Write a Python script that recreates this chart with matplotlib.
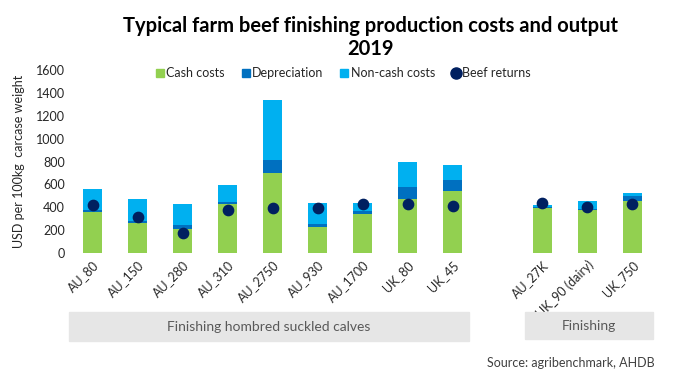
import matplotlib.pyplot as plt
from matplotlib.patches import Rectangle
from matplotlib.lines import Line2D
import numpy as np

plt.rcParams['font.family'] = ['Lato', 'DejaVu Sans']

farms = ["AU_80", "AU_150", "AU_280", "AU_310", "AU_2750", "AU_930", "AU_1700",
         "UK_80", "UK_45", "AU_27K", "UK_90 (dairy)", "UK_750"]
cash = [355, 259, 212, 425, 701, 230, 337, 468, 538, 390, 378, 451]
depreciation = [17, 17, 29, 23, 114, 20, 32, 105, 102, 11, 6, 44]
non_cash = [189, 198, 190, 148, 523, 189, 70, 224, 131, 15, 73, 34]
beef_returns = [419, 314, 172, 372, 390, 390, 428, 428, 410, 436, 401, 428]

# gap between the two groups
x = np.array([0, 1, 2, 3, 4, 5, 6, 7, 8, 10, 11, 12])
cash = np.array(cash)
depreciation = np.array(depreciation)
non_cash = np.array(non_cash)

fig = plt.figure(figsize=(6.83, 3.78), dpi=100)
ax = fig.add_axes([0.1025, 0.3307, 0.8565, 0.484])

w = 0.42
ax.bar(x, cash, w, color='#92d050')
ax.bar(x, depreciation, w, bottom=cash, color='#0070c0')
ax.bar(x, non_cash, w, bottom=cash + depreciation, color='#00b0f0')
ax.scatter(x, beef_returns, s=55, color='#002060', zorder=3)

ax.set_xlim(-0.5, 12.5)
ax.set_ylim(0, 1600)
ax.set_yticks(range(0, 1601, 200))
ax.set_xticks(x)
ax.set_xticklabels(farms, rotation=45, ha='right', rotation_mode='anchor', fontsize=9, color='#262626')
ax.tick_params(axis='y', labelsize=9, labelcolor='#262626', length=0)
ax.tick_params(axis='x', length=0, pad=4)
for s in ax.spines.values():
    s.set_visible(False)
ax.set_ylabel('USD per 100kg  carcase weight', fontsize=9, color='#262626', labelpad=8)

fig.text(0.542, 0.901, 'Typical farm beef finishing production costs and output\n2019',
         ha='center', va='center', fontsize=14.5, fontweight='bold', linespacing=1.15)

handles = [Line2D([], [], ls='', marker='s', ms=6, color='#92d050'),
           Line2D([], [], ls='', marker='s', ms=6, color='#0070c0'),
           Line2D([], [], ls='', marker='s', ms=6, color='#00b0f0'),
           Line2D([], [], ls='', marker='o', ms=8, color='#002060')]
fig.legend(handles, ['Cash costs', 'Depreciation', 'Non-cash costs', 'Beef returns'],
           loc='center', bbox_to_anchor=(0.502, 0.807), ncol=4, frameon=False,
           fontsize=9, handletextpad=0.1, columnspacing=1.3, handlelength=0.8,
           labelcolor='#262626')

# group boxes under the axis
fig.patches.append(Rectangle((69 / 683, 1 - 341 / 378), 400 / 683, 29 / 378,
                             transform=fig.transFigure, color='#e6e6e6', zorder=0))
fig.patches.append(Rectangle((525 / 683, 1 - 339 / 378), 128 / 683, 27 / 378,
                             transform=fig.transFigure, color='#e6e6e6', zorder=0))
fig.text(269 / 683, 1 - 327 / 378, 'Finishing hombred suckled calves', ha='center', va='center',
         fontsize=10, color='#595959')
fig.text(589 / 683, 1 - 325.5 / 378, 'Finishing', ha='center', va='center',
         fontsize=10, color='#595959')
fig.text(655 / 683, 1 - 363 / 378, 'Source: agribenchmark, AHDB', ha='right', va='center',
         fontsize=9, color='#404040')

fig.savefig('out.png', dpi=100)
